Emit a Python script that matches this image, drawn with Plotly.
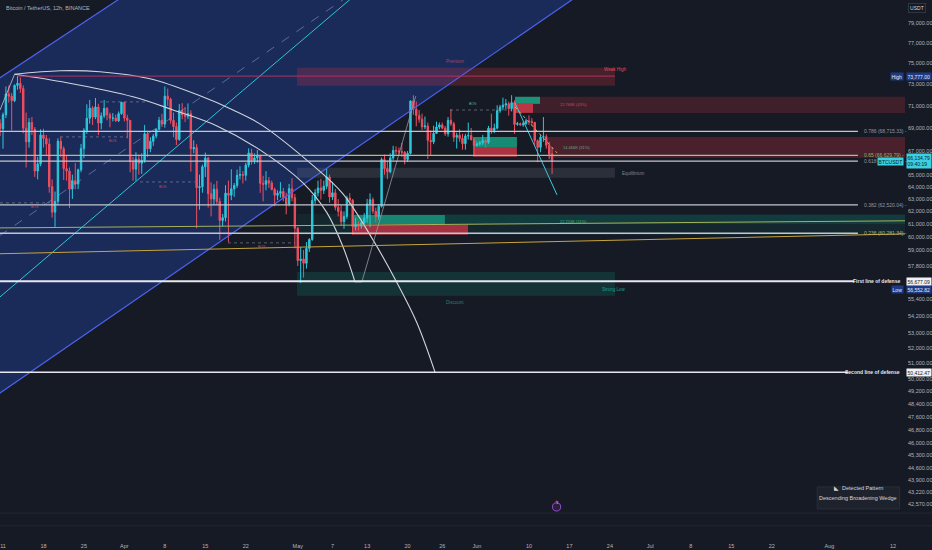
import math
import pandas as pd
import plotly.graph_objects as go

# BTCUSDT 12h candles (Binance)
candle_start = "2024-03-10 12:00"
first_open = 69400
candle_high = [
    69800,
    70400, 72800, 72900, 72200, 73000, 73777, 73650, 72900, 70400, 69900,
    70000, 69100, 66500, 68900, 68950, 68400, 68100, 64600, 63600, 68100,
    68200, 67400, 66650, 65600, 65000, 65980, 65500, 67620, 69000, 71150,
    71560, 71000, 71730, 71200, 70400, 71550, 70900, 70400, 70350, 70200,
    70500, 71370, 71340, 70200, 69710, 66500, 66900, 66700, 66800, 69290,
    68720, 68200, 68500, 69000, 70000, 70280, 72800, 72600, 71760, 70400,
    69500, 71170, 71260, 70900, 71230, 70600, 67930, 67600, 65000, 65840,
    66870, 66500, 64360, 64200, 64480, 63100, 61800, 64120, 64500, 65450,
    64300, 65420, 65700, 65300, 66000, 67230, 67200, 66800, 67080, 66700,
    64900, 65290, 64800, 64500, 63920, 63700, 64370, 63900, 63500, 64230,
    64700, 63400, 60780, 59200, 59000, 59600, 59900, 63320, 63800, 64500,
    64650, 64500, 65500, 65000, 64400, 63800, 62980, 62500, 62000, 63250,
    63470, 63000, 61490, 61200, 61300, 61850, 63000, 63450, 63120, 62300,
    62600, 66440, 66700, 66200, 66800, 67450, 67400, 67300, 67700, 67000,
    67000, 71520, 71980, 71400, 70630, 70300, 70040, 69500, 68800, 69220,
    69580, 69500, 69500, 69200, 70000, 70690, 69560, 68600, 68900, 68500,
    68500, 69500, 69020, 68100, 67800, 67860, 68410, 68000, 69200, 70290,
    69400, 71060, 71100, 71760, 71630, 71400, 71990, 71500, 69560, 69500,
    69600, 69850, 70150, 69900, 69560, 68000, 68400, 69990, 68450, 67800,
    67300,
]
candle_low = [
    68300,
    67200, 69900, 71300, 68800, 71350, 72500, 72200, 68550, 65600, 67300,
    68400, 64800, 64600, 65700, 67300, 66600, 63500, 61500, 60775, 62500,
    66500, 64550, 64500, 62260, 63000, 63800, 63800, 65200, 66380, 68500,
    69400, 69280, 69800, 68380, 68900, 69900, 69700, 69080, 69600, 69580,
    69560, 70200, 69600, 68100, 65200, 64500, 64490, 65000, 65060, 66000,
    66500, 66900, 67450, 68100, 68800, 69100, 69040, 71000, 69400, 68200,
    67520, 67900, 69800, 69560, 69800, 65250, 66800, 60660, 62130, 63500,
    64800, 62300, 61600, 62500, 62500, 59770, 60800, 61200, 59600, 62900,
    63170, 63900, 64600, 64270, 64500, 65600, 65850, 65900, 66000, 63500,
    62800, 63700, 63900, 63700, 62400, 62900, 63100, 62800, 61770, 62400,
    62800, 59120, 57800, 56552.82, 56940, 57600, 58850, 59700, 62600, 63200,
    62950, 63400, 63800, 62700, 62900, 62080, 61600, 60880, 60630, 61400,
    62500, 60190, 60500, 60490, 60630, 60800, 61100, 60750, 61800, 61140,
    61330, 62300, 65000, 64620, 65110, 66200, 66700, 66600, 66500, 65860,
    66060, 66700, 70200, 69160, 69500, 68820, 68900, 66320, 66600, 67600,
    68500, 68900, 68900, 68320, 68250, 69200, 67800, 67220, 67800, 67120,
    67120, 68000, 67900, 66670, 67390, 67450, 67500, 67300, 67620, 68500,
    68560, 68900, 70380, 70600, 70700, 70120, 70500, 68500, 69210, 69200,
    69130, 69300, 69300, 69230, 67500, 66050, 66900, 67800, 67200, 66300,
    65060,
]
candle_close = [
    68950,
    70200, 72100, 71900, 71480, 72900, 73100, 72600, 69000, 67800, 69500,
    68900, 65300, 65900, 68390, 68100, 67600, 64000, 61940, 62800, 67850,
    67200, 65500, 65300, 63800, 64500, 64220, 65400, 67210, 68800, 69880,
    70800, 69990, 70900, 69450, 70100, 70780, 70200, 69890, 69900, 69650,
    70300, 71330, 69900, 69700, 66100, 65460, 66300, 65960, 66200, 68500,
    67200, 67840, 68300, 68900, 69700, 69360, 71900, 71620, 69700, 69140,
    68000, 70590, 70200, 70060, 70300, 67190, 67300, 63920, 64000, 65660,
    66400, 63420, 63000, 63790, 62800, 61280, 61500, 63470, 63300, 63820,
    64100, 64940, 65000, 64940, 65800, 66840, 66200, 66410, 66600, 64280,
    64200, 64500, 64300, 63770, 63300, 63460, 63600, 63120, 62600, 63840,
    63100, 60670, 58200, 58320, 58000, 59120, 59800, 62880, 63500, 63890,
    63700, 64030, 64800, 63160, 63500, 62330, 62000, 61190, 61600, 63070,
    62900, 60790, 61000, 60830, 61100, 61480, 62600, 62940, 62000, 61580,
    62400, 66270, 65500, 65230, 66400, 67050, 67000, 66940, 66900, 66280,
    66800, 71450, 70700, 70140, 69800, 69120, 69200, 67930, 67800, 68530,
    69100, 69290, 69000, 68510, 69700, 69390, 68200, 68370, 68100, 67630,
    68300, 68350, 68000, 67490, 67600, 67710, 67900, 67750, 69000, 68800,
    69000, 70570, 70900, 71080, 71200, 70760, 71300, 69340, 69400, 69300,
    69400, 69650, 69600, 69510, 67900, 67320, 68200, 68240, 67500, 66750,
    66134.79,
]

# levels drawn on the chart
fib_names = ["0.786", "0.65", "0.618", "0.382", "0.236"]
fib_levels = [68715.33, 66629.79, 66139.08, 62520.04, 60281.34]
defense_names = ["First line of defense", "Second line of defense"]
defense_levels = [56677.09, 50412.47]
high_price = 73777.00
low_price = 56552.82
last_price = 66134.79
last_clock = "09:40:19"

# axes
x_view = ["2024-03-10 11:30", "2024-08-14 01:30"]
y_view = [42125, 81360]
x_tick_dates = ["2024-03-11", "2024-03-18", "2024-03-25", "2024-04-01", "2024-04-08",
                "2024-04-15", "2024-04-22", "2024-05-01", "2024-05-07", "2024-05-13",
                "2024-05-20", "2024-05-26", "2024-06-01", "2024-06-10", "2024-06-17",
                "2024-06-24", "2024-07-01", "2024-07-08", "2024-07-15", "2024-07-22",
                "2024-08-01", "2024-08-12"]
x_tick_text = ["11", "18", "25", "Apr", "8", "15", "22", "May", "7", "13", "20", "26",
               "Jun", "10", "17", "24", "Jul", "8", "15", "22", "Aug", "12"]
y_tick_vals = [79000, 77000, 75000, 73000, 71000, 69000, 67000, 65000, 64000, 63000,
               62000, 61000, 60000, 59000, 57800, 55400, 54200, 53000, 52000, 51000,
               50000, 49200, 48400, 47600, 46800, 46000, 45300, 44600, 43900, 43220, 42570]

# drawings (time, price anchors)
channel_upper_t = ["2024-03-05 07:00", "2024-04-07 04:00"]
channel_upper_p = [71760, 84340]
channel_lower_t = ["2024-03-05 07:00", "2024-06-25 18:00"]
channel_lower_p = [47810, 84910]
channel_mid_t = ["2024-03-05 07:00", "2024-05-09 04:00"]
channel_mid_p = [58540, 81530]
cyan_trend_t = ["2024-03-08 18:00", "2024-05-10 09:00"]
cyan_trend_p = [54940, 81590]

outer_arc_t = ["2024-03-13 00:00", "2024-03-20 20:40", "2024-03-27 18:40", "2024-04-05 10:20",
               "2024-04-14 02:00", "2024-04-19 19:00", "2024-04-24 11:00", "2024-05-03 02:40",
               "2024-05-08 19:40", "2024-05-14 00:20", "2024-05-18 04:00", "2024-05-21 15:00",
               "2024-05-24 17:50"]
outer_arc_p = [73950, 74280, 74190, 73520, 71930, 70640, 69380, 65990, 63410, 59770,
               56560, 53710, 50420]
inner_arc_t = ["2024-03-13 00:00", "2024-03-22 01:40", "2024-04-02 11:50", "2024-04-09 09:50",
               "2024-04-17 00:30", "2024-04-24 11:00", "2024-05-01 21:40", "2024-05-06 01:30",
               "2024-05-08 19:40", "2024-05-10 21:40"]
inner_arc_p = [73950, 73150, 71840, 70640, 69200, 67100, 64310, 61880, 59240, 56620]

swing_left_t = ["2024-03-10 11:30", "2024-03-13 00:00"]
swing_left_p = [70630, 73950]
swing_up_t = ["2024-05-10 21:40", "2024-05-12 02:00", "2024-05-21 10:00"]
swing_up_p = [56620, 56620, 71900]
drop_cyan_t = ["2024-06-07 14:00", "2024-06-14 20:30"]
drop_cyan_p = [71280, 63330]
drop_gold_t = ["2024-06-07 14:00", "2024-06-14 20:30"]
drop_gold_p = [70910, 66840]
olive_line_t = ["2024-03-09 00:00", "2024-08-16 00:00"]
olive_line_p = [60690, 61260]
gold_line_t = ["2024-03-09 00:00", "2024-08-16 00:00"]
gold_line_p = [58700, 60250]
high_line_t = ["2024-03-13 12:00", "2024-06-24 21:00"]

# zones: start, end, bottom, top
weak_high_zone = ["2024-04-30 21:00", "2024-06-24 21:00", 72860, 74570]
equilibrium_zone = ["2024-04-30 21:00", "2024-06-24 21:00", 64730, 65570]
strong_low_zone = ["2024-04-30 21:00", "2024-06-24 21:00", 55620, 57360]
supply_71k = ["2024-06-07 14:00", "2024-08-20 00:00", 70370, 71840]
supply_67k = ["2024-06-13 07:00", "2024-08-20 00:00", 66420, 68230]
demand_band = ["2024-04-30 21:00", "2024-08-20 00:00", 60150, 61800]
ob_green_top = ["2024-06-07 14:00", "2024-06-11 22:00", 71190, 71840]
ob_red_top = ["2024-06-07 14:00", "2024-06-10 17:00", 70370, 71190]
ob_green_mid = ["2024-05-31 07:30", "2024-06-07 22:00", 67360, 68230]
ob_red_mid = ["2024-05-31 07:30", "2024-06-07 22:00", 66500, 67360]
ob_green_low = ["2024-05-10 09:00", "2024-05-26 11:00", 61010, 61720]
ob_green_low_ext = ["2024-05-26 11:00", "2024-08-20 00:00", 61010, 61720]
ob_red_low = ["2024-05-10 09:00", "2024-05-30 11:00", 60160, 60940]

# structure breaks: start, end, price
bos_lines = [
    ["2024-03-20 20:40", "2024-04-01 10:50", 68230],
    ["2024-03-27 18:40", "2024-04-04 22:00", 71370],
    ["2024-04-03 17:00", "2024-04-13 05:00", 64390],
    ["2024-03-10 11:30", "2024-03-19 03:00", 62680],
    ["2024-04-18 22:20", "2024-04-30 12:30", 59540],
    ["2024-05-27 08:00", "2024-06-07 01:30", 70630],
]

BG = "#161a25"
UP = "#2bc8dc"
DOWN = "#ef4f5f"
TXT = "#b2b5be"
FONT = "Liberation Sans"

candle_time = pd.date_range(candle_start, periods=len(candle_close), freq="12h")
candle_open = [first_open] + candle_close[:-1]

fig = go.Figure()


def ly(p):
    return math.log10(p)


def seg(t, p, color, width=1.0, dash="solid", shape="linear"):
    fig.add_trace(go.Scatter(x=t, y=p, mode="lines", hoverinfo="skip", showlegend=False,
                             line=dict(color=color, width=width, dash=dash, shape=shape)))


def box(z, color):
    fig.add_shape(type="rect", xref="x", yref="y", x0=z[0], x1=z[1], y0=z[2], y1=z[3],
                  fillcolor=color, line=dict(width=0), layer="below")


def label(t, p, text, color, size=5, anchor="left"):
    fig.add_annotation(x=t, y=ly(p), xref="x", yref="y", text=text, showarrow=False,
                       xanchor=anchor, font=dict(size=size, color=color, family=FONT))


def tag(p, text, bg, fg, side="left", shift=1, yshift=0):
    fig.add_annotation(x=1, xref="paper", y=ly(p), yref="y", text=text, showarrow=False,
                       xanchor=side, xshift=shift, yshift=yshift, bgcolor=bg, borderpad=0.6,
                       align="left", font=dict(size=5, color=fg, family=FONT))


# channel fill (path in data space, under the candles)
def pd_(t):
    return t.replace(" ", "_")


fig.add_shape(type="path", xref="x", yref="y", layer="below",
              path="M {},{} L {},{} L {},{} L {},{} Z".format(
                  pd_(channel_upper_t[0]), channel_upper_p[0], pd_(channel_upper_t[1]), channel_upper_p[1],
                  pd_(channel_lower_t[1]), channel_lower_p[1], pd_(channel_lower_t[0]), channel_lower_p[0]),
              fillcolor="rgba(41,98,255,0.24)", line=dict(width=0))

# zones
box(weak_high_zone, "rgba(242,54,69,0.22)")
box(equilibrium_zone, "rgba(120,123,134,0.22)")
box(strong_low_zone, "rgba(8,153,129,0.2)")
box(supply_71k, "rgba(242,54,69,0.18)")
box(supply_67k, "rgba(242,54,69,0.24)")
box(demand_band, "rgba(8,153,129,0.1)")
box(ob_green_low_ext, "rgba(8,153,129,0.18)")
box(ob_green_top, "rgba(24,160,130,0.9)")
box(ob_red_top, "rgba(200,55,72,0.9)")
box(ob_green_mid, "rgba(24,160,130,0.85)")
box(ob_red_mid, "rgba(200,55,72,0.85)")
box(ob_green_low, "rgba(24,150,125,0.85)")
box(ob_red_low, "rgba(190,50,68,0.85)")

fig.add_trace(go.Candlestick(
    x=candle_time, open=candle_open, high=candle_high, low=candle_low, close=candle_close,
    increasing=dict(line=dict(color=UP, width=1), fillcolor=UP),
    decreasing=dict(line=dict(color=DOWN, width=1), fillcolor=DOWN),
    whiskerwidth=0, hoverinfo="skip", showlegend=False))

# channel and trend drawings
seg(channel_upper_t, channel_upper_p, "#4c63f0", 1.2)
seg(channel_lower_t, channel_lower_p, "#4c63f0", 1.2)
seg(channel_mid_t, channel_mid_p, "rgba(140,160,220,0.55)", 1, "dash")
seg(cyan_trend_t, cyan_trend_p, "#2ec4d6", 1)
seg(outer_arc_t, outer_arc_p, "#d1d4dc", 1.1, shape="spline")
seg(inner_arc_t, inner_arc_p, "#d1d4dc", 1.1, shape="spline")
seg(swing_left_t, swing_left_p, "#c7cad3", 0.8)
seg(swing_up_t, swing_up_p, "#9598a1", 0.8)
seg(drop_cyan_t, drop_cyan_p, "#3cc9da", 1)
seg(drop_gold_t, drop_gold_p, "#c9b25e", 1, "dot")
seg(high_line_t, [high_price, high_price], "#b3325f", 1)
seg(olive_line_t, olive_line_p, "#a4b35c", 1)
seg(gold_line_t, gold_line_p, "#c7a43a", 1)

for b in bos_lines:
    seg(b[:2], [b[2], b[2]], "rgba(150,153,165,0.7)", 0.8, "dot")

# fib levels and defense lines
fib_end = "2024-08-05 22:00"
fib_colors = ["#c3c6ce", "#a9c08a", "#c3c6ce", "#c3c6ce", "#c3c6ce"]
fib_text_colors = ["#9598a1", "#8fb36b", "#9598a1", "#9598a1", "#b8b27a"]
for name, lvl, c, tc in zip(fib_names, fib_levels, fib_colors, fib_text_colors):
    seg([x_view[0], fib_end], [lvl, lvl], c, 1.3)
    label("2024-08-06 15:00", lvl, "{} ({:,.2f}) -".format(name, lvl), tc, 5)

seg([x_view[0], "2024-08-05 06:00"], [defense_levels[0]] * 2, "#e6e8ee", 2)
seg([x_view[0], "2024-08-04 06:00"], [defense_levels[1]] * 2, "#e6e8ee", 1.6)
for name, lvl in zip(defense_names, defense_levels):
    fig.add_annotation(x=1, xref="paper", y=ly(lvl), yref="y", text="<b>" + name + "</b>",
                       showarrow=False, xanchor="right", xshift=-3,
                       font=dict(size=5, color="#e6e8ee", family=FONT))

# zone / structure labels
label("2024-05-28 05:00", 75140, "Premium", "#a04a6a", 4.5, "center")
label("2024-06-27 03:00", 74420, "Weak High", "#e04a5c", 4.5, "right")
label("2024-06-25 18:00", 65070, "Equilibrium", "#7f838e", 4.5)
label("2024-06-27 03:00", 56050, "Strong Low", "#1fa08a", 4.5, "right")
label("2024-05-28 05:00", 55120, "Discount", "#2a7f70", 4.5, "center")
label("2024-06-15 00:00", 71100, "22.768K (43%)", "#c94a5a", 4)
label("2024-06-15 12:00", 67300, "14.466K (31%)", "#5fae8a", 4)
label("2024-06-15 00:00", 61200, "22.253K (11%)", "#5fae8a", 4)
label("2024-03-30 00:45", 67880, "BOS", "#c94a5a", 3.5, "center")
label("2024-04-07 16:00", 63980, "BOS", "#c94a5a", 3.5, "center")
label("2024-03-16 13:00", 62360, "BOS", "#c94a5a", 3.5, "center")
label("2024-04-24 19:30", 59240, "BOS", "#c94a5a", 3.5, "center")
label("2024-05-31 07:30", 71190, "BOS", "#5fae8a", 3.5, "center")

# price scale tags (the Low tag is pushed below the defense tag, as on the chart)
tag(high_price, "{:,.2f}".format(high_price), "#1c3a86", "#e6e8ee")
tag(high_price, "High", "#1c3a86", "#e6e8ee", side="right", shift=-1)
tag(last_price, "{:,.2f}<br>{}".format(last_price, last_clock), "#3ad0e2", "#0d1a22")
tag(last_price, "BTCUSDT", "#3ad0e2", "#0d1a22", side="right", shift=-1)
tag(low_price, "{:,.2f}".format(low_price), "#1c3a86", "#e6e8ee", yshift=-7)
tag(low_price, "Low", "#1c3a86", "#e6e8ee", side="right", shift=-1, yshift=-7)
tag(defense_levels[0], "{:,.2f}".format(defense_levels[0]), "#f0f1f4", "#131722")
tag(defense_levels[1], "{:,.2f}".format(defense_levels[1]), "#f0f1f4", "#131722")

fig.add_annotation(x=0.004, y=0.995, xref="paper", yref="paper", xanchor="left", yanchor="top",
                   text="Bitcoin / TetherUS, 12h, BINANCE", showarrow=False,
                   font=dict(size=5.5, color=TXT, family=FONT))
fig.add_annotation(x=1, y=0.995, xref="paper", yref="paper", xanchor="left", yanchor="top",
                   xshift=3, text="USDT", showarrow=False, bgcolor=BG, bordercolor="#434651",
                   borderwidth=0.6, borderpad=1.5, font=dict(size=5, color="#d1d4dc", family=FONT))

# detected pattern panel
fig.add_shape(type="rect", xref="paper", yref="paper", x0=0.903, x1=0.994, y0=0.006, y1=0.049,
              fillcolor="#1e222d", line=dict(color="#2a2e39", width=1))
fig.add_shape(type="line", xref="paper", yref="paper", x0=0.906, x1=0.991, y0=0.028, y1=0.028,
              line=dict(color="#2a2e39", width=1))
fig.add_annotation(x=0.9485, y=0.038, xref="paper", yref="paper", xanchor="center", showarrow=False,
                   text="◣  Detected Pattern", font=dict(size=5.5, color="#d1d4dc", family=FONT))
fig.add_annotation(x=0.9485, y=0.017, xref="paper", yref="paper", xanchor="center", showarrow=False,
                   text="Descending Broadening Wedge", font=dict(size=5.5, color="#d1d4dc", family=FONT))

# event marker
fig.add_shape(type="circle", xref="paper", yref="paper", x0=0.6105, x1=0.6195, y0=0.002, y1=0.018,
              fillcolor="#2a1f3d", line=dict(color="#9c4dcc", width=1))
fig.add_annotation(x=0.615, y=0.010, xref="paper", yref="paper", xanchor="center", showarrow=False,
                   text="↯", font=dict(size=5, color="#c58af0", family="DejaVu Sans"))

# separators under the pane
for yy in [-0.002, -0.027]:
    fig.add_shape(type="line", xref="paper", yref="paper", x0=0, x1=1.03, y0=yy, y1=yy,
                  line=dict(color="#232734", width=1))

fig.update_layout(
    width=932, height=550,
    margin=dict(l=0, r=27, t=0, b=38),
    paper_bgcolor=BG, plot_bgcolor=BG,
    showlegend=False, hovermode=False,
    font=dict(family=FONT, size=5.5, color=TXT),
    xaxis=dict(type="date", range=x_view, rangeslider=dict(visible=False), showgrid=False,
               zeroline=False, showline=False, ticks="", tickmode="array",
               tickvals=x_tick_dates, ticktext=x_tick_text, ticklabelstandoff=29,
               tickfont=dict(size=5.5, color=TXT), automargin=False),
    yaxis=dict(type="log", range=[ly(y_view[0]), ly(y_view[1])], side="right", showgrid=False,
               zeroline=False, showline=False, ticks="", tickmode="array", tickvals=y_tick_vals,
               ticktext=["{:,.2f}".format(v) for v in y_tick_vals], ticklabelstandoff=2,
               tickfont=dict(size=5.5, color=TXT), automargin=False),
)

fig.write_html("out.html", config={"displayModeBar": False},
               post_script="document.body.style.margin='0px';"
                           "document.body.style.background='" + BG + "';")
